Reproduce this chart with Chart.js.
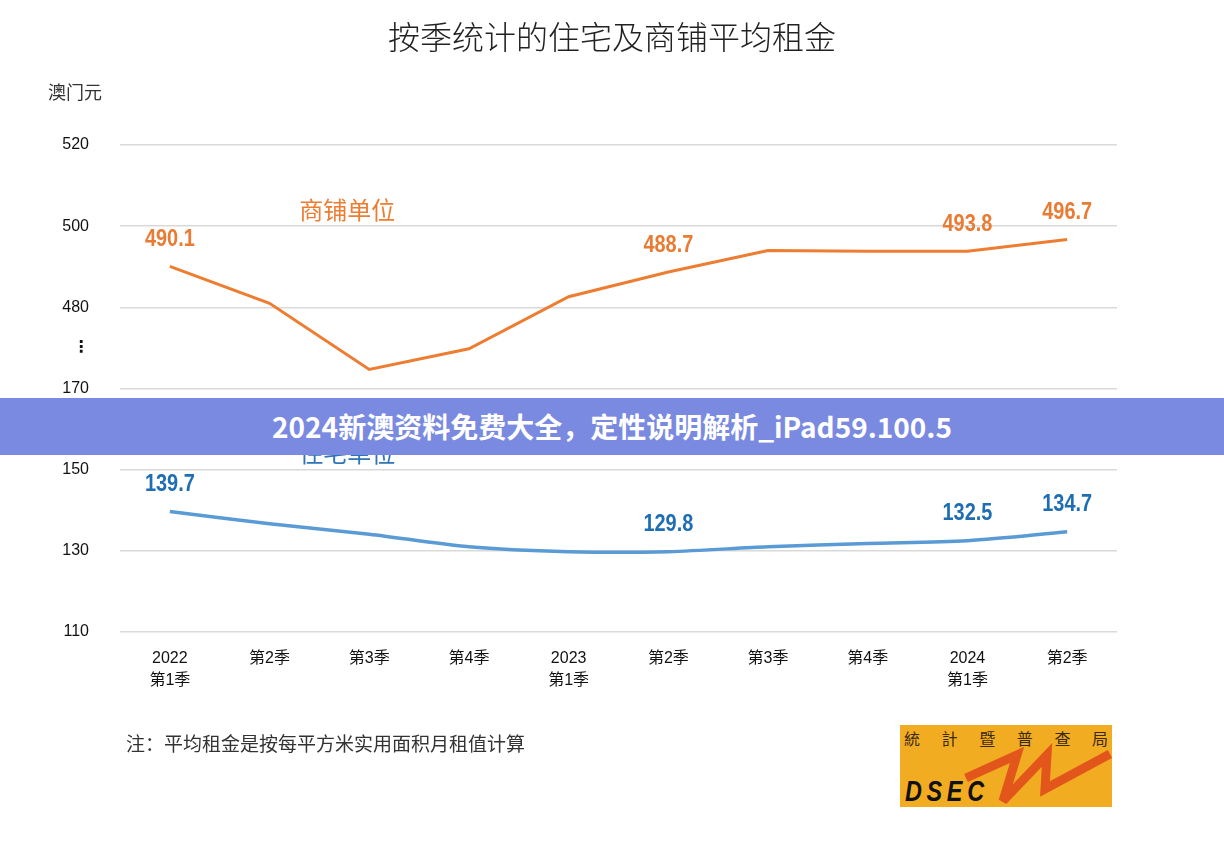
<!DOCTYPE html>
<html>
<head>
<meta charset="utf-8">
<script src="https://cdn.jsdelivr.net/npm/chart.js@4.4.1/dist/chart.umd.min.js"></script>
<style>
  body { margin: 0; background: #fff; }
  #wrap { position: relative; width: 1224px; height: 852px; overflow: hidden; font-family: "Noto Sans CJK SC", sans-serif; }
  #chart { position: absolute; left: 0; top: 0; }
  .title { position: absolute; left: 0; top: 14px; width: 1224px; text-align: center; font-size: 32px; line-height: 42px; color: #222; font-weight: 300; }
  .unit { position: absolute; left: 48px; top: 79px; font-size: 18px; line-height: 24px; color: #333; }
  .note { position: absolute; left: 126px; top: 731px; font-size: 19px; line-height: 24px; color: #333; }
  .banner { position: absolute; left: 0; top: 398px; width: 1224px; height: 57px; background: #7a8ae0; color: #fff;
            font-weight: bold; font-size: 28px; line-height: 57px; text-align: center; }
  .logo { position: absolute; left: 900px; top: 725px; width: 212px; height: 82px; background: #f2ac22; overflow: hidden; }
  .logo .cn { position: absolute; left: 0; top: 2px; width: 212px; display: flex; justify-content: space-between; padding: 0 4px; box-sizing: border-box;
              font-size: 16px; line-height: 22px; color: #3a2a10; }
  .logo .en { position: absolute; left: 5px; top: 50px; font-family: "Liberation Sans", sans-serif; font-weight: bold; font-style: italic;
              font-size: 30px; line-height: 32px; letter-spacing: 6px; color: #111; transform: scaleX(0.78); transform-origin: left top; }
  .logo svg { position: absolute; left: 0; top: 0; }
</style>
</head>
<body>
<div id="wrap">
  <canvas id="chart" width="1224" height="852"></canvas>
  <div class="title">按季统计的住宅及商铺平均租金</div>
  <div class="unit">澳门元</div>
  <div class="note">注：平均租金是按每平方米实用面积月租值计算</div>
  <div class="logo">
    <svg width="212" height="82"><polyline points="66,53 117,30 103,76 147,30 145,64 210,29" fill="none" stroke="#e2561c" stroke-width="9" stroke-linejoin="miter" stroke-miterlimit="3"/></svg>
    <div class="cn"><span>統</span><span>計</span><span>暨</span><span>普</span><span>查</span><span>局</span></div>
    <div class="en">DSEC</div>
  </div>
  <div class="banner">2024新澳资料免费大全，定性说明解析_iPad59.100.5</div>
</div>
<script>
// quarters, two-line labels
const quarters = [['2022', '第1季'], '第2季', '第3季', '第4季', ['2023', '第1季'], '第2季', '第3季', '第4季', ['2024', '第1季'], '第2季'];
const shopRent = [490.1, 481.0, 464.7, 469.8, 482.6, 488.7, 494.0, 493.8, 493.8, 496.7];
const homeRent = [139.7, 136.7, 134.1, 131.0, 129.8, 129.8, 131.0, 131.8, 132.5, 134.7];
const labelled = [0, 5, 8, 9]; // points that carry a value label
const tickValues = [110, 130, 150, 170, 480, 500, 520];

// broken axis: 110..170 sits at the bottom, 460..520 stacked right on top of it
const toAxis = v => v >= 400 ? v - 400 : v - 110;
const breakAt = 70;

const seriesText = {
  id: 'seriesText',
  afterDatasetsDraw(chart) {
    const { ctx, scales: { x, y } } = chart;
    const colors = ['#e97b32', '#1f6eb4'];
    const raw = [shopRent, homeRent];
    ctx.save();
    ctx.textAlign = 'center';
    ctx.textBaseline = 'middle';
    ctx.font = 'bold 24px "Liberation Sans", sans-serif';
    chart.data.datasets.forEach((ds, i) => {
      const meta = chart.getDatasetMeta(i);
      ctx.fillStyle = colors[i];
      labelled.forEach(idx => {
        const pt = meta.data[idx];
        // condensed look of the original labels
        ctx.save();
        ctx.translate(pt.x, pt.y - 27);
        ctx.scale(0.83, 1);
        ctx.fillText(raw[i][idx].toFixed(1), 0, 0);
        ctx.restore();
      });
    });
    // series names
    ctx.font = '24px "Noto Sans CJK SC", sans-serif';
    ctx.fillStyle = '#ed7d31';
    ctx.fillText('商铺单位', x.getPixelForValue(1.78), y.getPixelForValue(toAxis(504)));
    ctx.fillStyle = '#2e75b6';
    ctx.fillText('住宅单位', x.getPixelForValue(1.78), y.getPixelForValue(toAxis(154.2)));
    ctx.restore();
  }
};

new Chart(document.getElementById('chart'), {
  type: 'line',
  data: {
    labels: quarters,
    datasets: [{
      label: '商铺单位',
      data: shopRent.map(toAxis),
      borderColor: '#ed7d31',
      borderWidth: 3,
      pointRadius: 0,
      tension: 0
    }, {
      label: '住宅单位',
      data: homeRent.map(toAxis),
      borderColor: '#5b9bd5',
      borderWidth: 3.5,
      pointRadius: 0,
      tension: 0.3
    }]
  },
  options: {
    responsive: false,
    animation: false,
    layout: { padding: { top: 145, right: 107, bottom: 130, left: 0 } },
    plugins: { legend: { display: false }, tooltip: { enabled: false } },
    scales: {
      x: {
        offset: true,
        grid: { display: false },
        border: { display: false },
        ticks: {
          color: '#111',
          padding: 7,
          maxRotation: 0,
          font: { family: '"Liberation Sans", "Noto Sans CJK SC", sans-serif', size: 16, lineHeight: 1.4 }
        },
        afterFit: s => { s.height = 90; }
      },
      y: {
        min: 0,
        max: 120,
        border: { display: false },
        grid: {
          drawTicks: false,
          lineWidth: 1.5,
          color: c => c.tick && c.tick.value === breakAt ? 'rgba(0,0,0,0)' : '#d9d9d9'
        },
        afterBuildTicks: s => {
          s.ticks = tickValues.map(toAxis).concat([breakAt]).sort((a, b) => a - b).map(v => ({ value: v }));
        },
        ticks: {
          color: '#111',
          padding: 31,
          font: c => c.tick && c.tick.value === breakAt
            ? { family: '"DejaVu Sans", sans-serif', size: 16, weight: 'bold' }
            : { family: '"Liberation Sans", sans-serif', size: 16 },
          callback: v => v === breakAt ? '⋮' : tickValues.find(t => toAxis(t) === v)
        },
        afterFit: s => { s.width = 120; }
      }
    }
  },
  plugins: [seriesText]
});
</script>
</body>
</html>
